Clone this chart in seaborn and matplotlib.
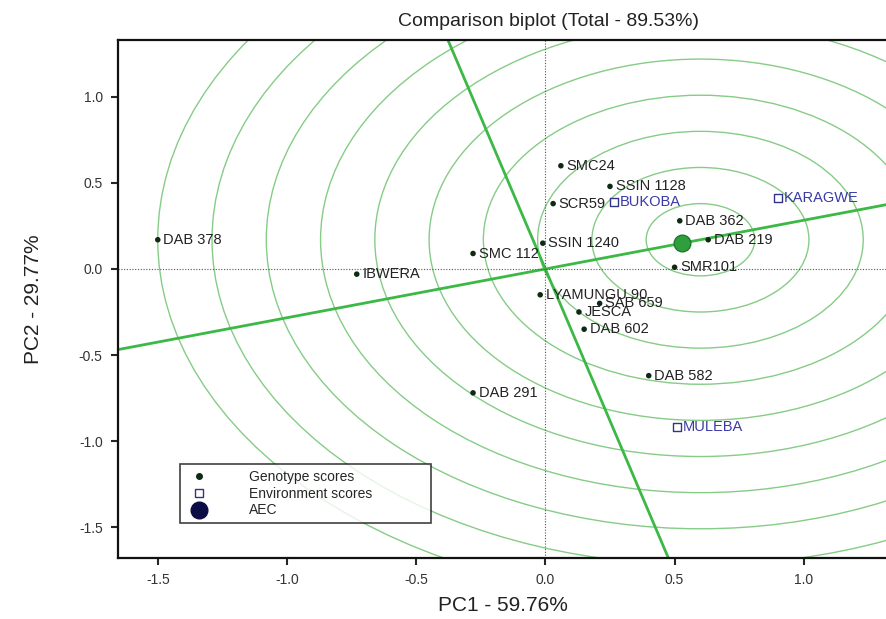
import matplotlib
matplotlib.use('Agg')
import matplotlib.pyplot as plt
from matplotlib.patches import Circle
from matplotlib.lines import Line2D
import seaborn as sns
import pandas as pd


# Genotype scores
genotypes = ['DAB 378', 'IBWERA', 'SMC 112', 'SMC24', 'SSIN 1128', 'SCR59',
             'SSIN 1240', 'DAB 362', 'DAB 219', 'SMR101', 'LYAMUNGU 90',
             'SAB 659', 'JESCA', 'DAB 602', 'DAB 582', 'DAB 291']
gen_pc1 = [-1.50, -0.73, -0.28, 0.06, 0.25, 0.03, -0.01, 0.52, 0.63, 0.50,
           -0.02, 0.21, 0.13, 0.15, 0.40, -0.28]
gen_pc2 = [0.17, -0.03, 0.09, 0.60, 0.48, 0.38, 0.15, 0.28, 0.17, 0.01,
           -0.15, -0.20, -0.25, -0.35, -0.62, -0.72]

# Environment scores
environments = ['BUKOBA', 'KARAGWE', 'MULEBA']
env_pc1 = [0.265, 0.90, 0.51]
env_pc2 = [0.39, 0.41, -0.92]

# AEC marker and ideal genotype (centre of the rings)
aec_pc1, aec_pc2 = 0.53, 0.15
ideal_pc1, ideal_pc2 = 0.60, 0.17
ring_step = 0.21
n_rings = 10

gen_df = pd.DataFrame({'PC1': gen_pc1, 'PC2': gen_pc2, 'name': genotypes})
env_df = pd.DataFrame({'PC1': env_pc1, 'PC2': env_pc2, 'name': environments})

sns.set_style('white')
plt.rcParams['font.family'] = ['Liberation Sans', 'DejaVu Sans']

fig = plt.figure(figsize=(8.87, 6.19), dpi=100)
ax = fig.add_axes([0.1330, 0.0985, 0.867, 0.8369])

ring_color = '#86cc86'
line_color = '#3cb846'

# concentric rings around the ideal genotype
for k in range(1, n_rings + 1):
    ax.add_patch(Circle((ideal_pc1, ideal_pc2), k * ring_step, fill=False,
                        edgecolor=ring_color, linewidth=1.0, zorder=1))

# AEC abscissa and ordinate through the origin
ax.axline((0, 0), (ideal_pc1, ideal_pc2), color=line_color, linewidth=2.0, zorder=2)
ax.axline((0, 0), (-ideal_pc2, ideal_pc1), color=line_color, linewidth=2.0, zorder=2)

ax.axhline(0, color='#555555', linestyle=(0, (1, 1.5)), linewidth=0.8, zorder=2)
ax.axvline(0, color='#555555', linestyle=(0, (1, 1.5)), linewidth=0.8, zorder=2)

# AEC marker
ax.plot(aec_pc1, aec_pc2, marker='o', markersize=12, color='#2f9e3c',
        markeredgecolor='#1f7a2a', zorder=4)

# scores
sns.scatterplot(data=gen_df, x='PC1', y='PC2', ax=ax, color='#0f2a12', s=16,
                edgecolor='none', zorder=5, legend=False)
sns.scatterplot(data=env_df, x='PC1', y='PC2', ax=ax, marker='s', s=28,
                facecolor='white', edgecolor='#333388', linewidth=1.0, zorder=5,
                legend=False)

for _, row in gen_df.iterrows():
    ax.annotate(row['name'], (row['PC1'], row['PC2']), xytext=(4, 0),
                textcoords='offset points', va='center', ha='left',
                fontsize=10.5, color='#222222', zorder=6)
for _, row in env_df.iterrows():
    ax.annotate(row['name'], (row['PC1'], row['PC2']), xytext=(4, 0),
                textcoords='offset points', va='center', ha='left',
                fontsize=10.5, color='#3a3aa6', zorder=6)

ax.set_xlim(-1.654, 1.322)
ax.set_ylim(-1.680, 1.331)
ax.set_xticks([-1.5, -1.0, -0.5, 0.0, 0.5, 1.0])
ax.set_yticks([-1.5, -1.0, -0.5, 0.0, 0.5, 1.0])
ax.xaxis.set_major_formatter(matplotlib.ticker.FormatStrFormatter('%.1f'))
ax.yaxis.set_major_formatter(matplotlib.ticker.FormatStrFormatter('%.1f'))
ax.tick_params(axis='both', direction='out', length=5, width=1.5,
               labelsize=10, labelcolor='#333333', bottom=True, left=True)
ax.tick_params(axis='x', pad=6)
ax.tick_params(axis='y', pad=6)

for side in ['top', 'left', 'bottom']:
    ax.spines[side].set_color('#111111')
    ax.spines[side].set_linewidth(1.6)
ax.spines['right'].set_visible(False)

ax.set_xlabel('PC1 - 59.76%', fontsize=15, color='#222222', labelpad=6)
ax.set_ylabel('PC2 - 29.77%', fontsize=15, color='#222222', labelpad=26)
ax.set_title('Comparison biplot (Total - 89.53%)', fontsize=14, color='#222222',
             pad=10, x=0.56)

handles = [
    Line2D([], [], marker='o', linestyle='none', markersize=4,
           markerfacecolor='#0f2a12', markeredgecolor='#0f2a12'),
    Line2D([], [], marker='s', linestyle='none', markersize=6,
           markerfacecolor='white', markeredgecolor='#333388'),
    Line2D([], [], marker='o', linestyle='none', markersize=12,
           markerfacecolor='#0d0d45', markeredgecolor='#0d0d45'),
]
labels = ['Genotype scores', 'Environment scores', 'AEC']
leg = ax.legend(handles, labels, loc='lower left',
                bbox_to_anchor=(0.0806, 0.0676, 0.327, 0.112), mode='expand',
                frameon=True, fancybox=False, fontsize=10, handletextpad=2.6,
                labelspacing=0.2, borderpad=0.4, borderaxespad=0)
leg.get_frame().set_edgecolor('#111111')
leg.get_frame().set_linewidth(1.2)
leg.set_zorder(7)

fig.savefig('out.png', dpi=100)
